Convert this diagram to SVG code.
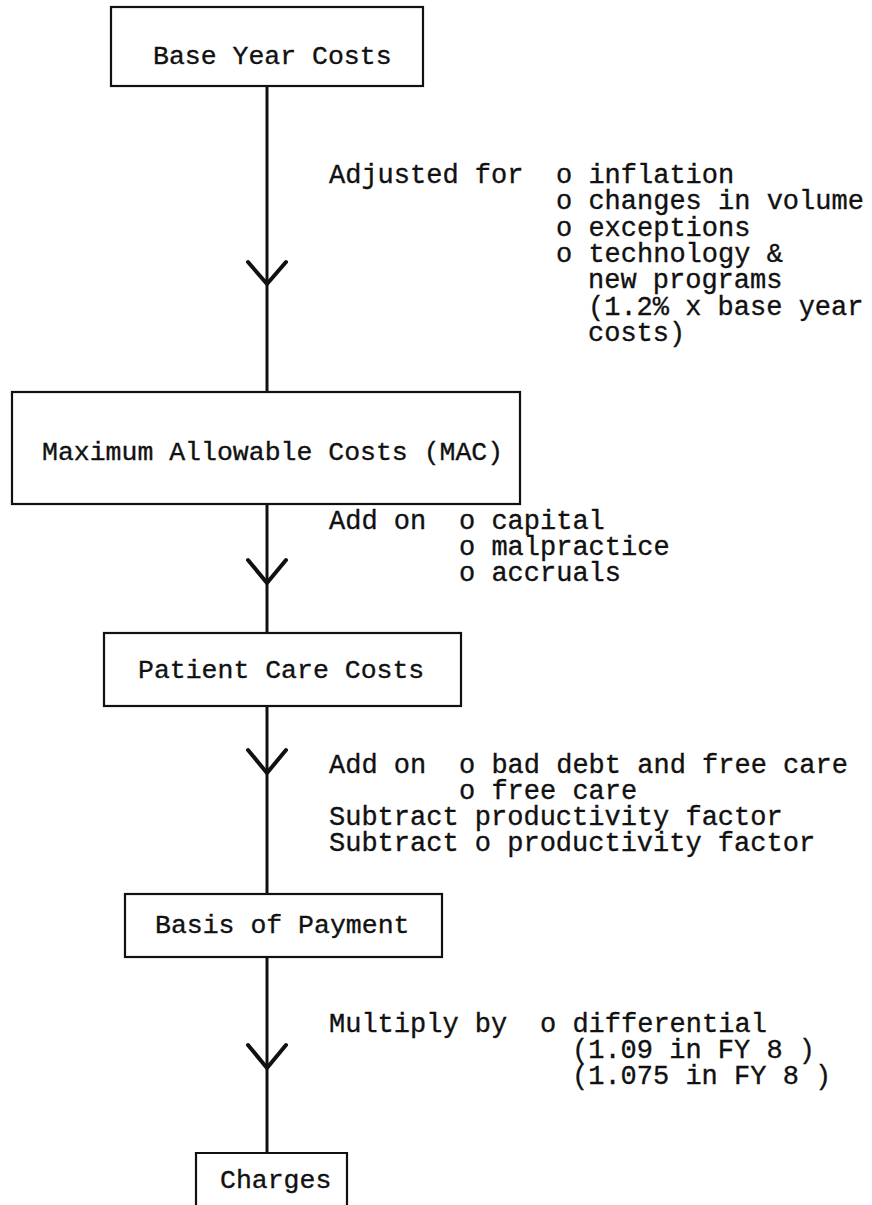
<svg xmlns="http://www.w3.org/2000/svg" width="872" height="1205" viewBox="0 0 872 1205">
<style>
.box{fill:#fff;stroke:#111;stroke-width:2.2}
.bt{font-family:"Liberation Mono",monospace;font-size:26.5px;fill:#111;stroke:#111;stroke-width:0.35}
.lt{font-family:"Liberation Mono",monospace;font-size:27px;fill:#111;stroke:#111;stroke-width:0.35}
.ln{stroke:#111;stroke-width:3;fill:none}
.ah{stroke:#111;stroke-width:4;fill:none;stroke-linecap:round;stroke-linejoin:round}
</style>
<rect width="872" height="1205" fill="#fff"/>
<g id="connectors">
<line class="ln" x1="267" y1="86" x2="267" y2="392"/>
<polyline class="ah" points="248,262 267,284 286,262"/>
<line class="ln" x1="267" y1="504" x2="267" y2="633"/>
<polyline class="ah" points="248,560 267,583 286,560"/>
<line class="ln" x1="267" y1="706" x2="267" y2="894"/>
<polyline class="ah" points="248,750 267,773 286,750"/>
<line class="ln" x1="267" y1="957" x2="267" y2="1153"/>
<polyline class="ah" points="248,1045 267,1068 286,1045"/>
</g>
<g id="node-base-year-costs">
<rect class="box" x="111" y="7" width="312" height="79"/>
<text class="bt" x="153" y="64">Base Year Costs</text>
</g>
<g id="label-adjusted">
<text class="lt" x="329" y="183">Adjusted for</text>
<text class="lt" x="556" y="183">o inflation</text>
<text class="lt" x="556" y="209">o changes in volume</text>
<text class="lt" x="556" y="236">o exceptions</text>
<text class="lt" x="556" y="262">o technology &amp;</text>
<text class="lt" x="588" y="288">new programs</text>
<text class="lt" x="588" y="315">(1.2% x base year</text>
<text class="lt" x="588" y="341">costs)</text>
</g>
<g id="node-mac">
<rect class="box" x="12" y="392" width="508" height="112"/>
<text class="bt" x="42" y="460">Maximum Allowable Costs (MAC)</text>
</g>
<g id="label-addon1">
<text class="lt" x="329" y="529">Add on</text>
<text class="lt" x="459" y="529">o capital</text>
<text class="lt" x="459" y="555">o malpractice</text>
<text class="lt" x="459" y="581">o accruals</text>
</g>
<g id="node-patient-care-costs">
<rect class="box" x="104" y="633" width="357" height="73"/>
<text class="bt" x="138" y="678">Patient Care Costs</text>
</g>
<g id="label-addon2">
<text class="lt" x="329" y="773">Add on</text>
<text class="lt" x="459" y="773">o bad debt and free care</text>
<text class="lt" x="459" y="799">o free care</text>
<text class="lt" x="329" y="825">Subtract productivity factor</text>
<text class="lt" x="329" y="851">Subtract o productivity factor</text>
</g>
<g id="node-basis-of-payment">
<rect class="box" x="125" y="894" width="317" height="63"/>
<text class="bt" x="155" y="933">Basis of Payment</text>
</g>
<g id="label-multiply">
<text class="lt" x="329" y="1032">Multiply by</text>
<text class="lt" x="540" y="1032">o differential</text>
<text class="lt" x="572" y="1058">(1.09 in FY 8 )</text>
<text class="lt" x="572" y="1084">(1.075 in FY 8 )</text>
</g>
<g id="node-charges">
<path class="box" d="M196,1210 V1153 H347 V1210"/>
<text class="bt" x="220" y="1188">Charges</text>
</g>
</svg>
